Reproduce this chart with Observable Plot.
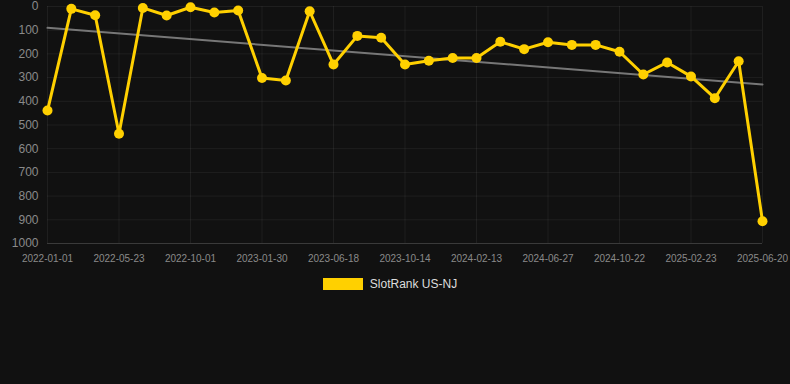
<!DOCTYPE html>
<html><head><meta charset="utf-8">
<script src="https://cdn.jsdelivr.net/npm/d3@7"></script>
<script src="https://cdn.jsdelivr.net/npm/@observablehq/plot@0.6"></script>
<style>
body{margin:0;background:#111111;font-family:Arial,"Liberation Sans",sans-serif}
#legend{display:flex;justify-content:center;align-items:center;margin-top:6px;height:12px;color:#dddddd;font-size:12px;padding-right:10px}
#legend .sw{width:40px;height:12px;background:#FFD000;margin-right:7px}
</style>
</head><body>
<div id="chart"></div>
<div id="legend"><span class="sw"></span><span id="legtext"></span></div>
<script>
const seriesName = "SlotRank US-NJ";
const ranks = [439, 10, 37, 537, 6, 38, 3, 25, 17, 302, 312, 20, 245, 124, 132, 245, 229, 217, 217, 149, 180, 151, 162, 162, 191, 287, 236, 295, 387, 231, 906];
const tickLabels = ["2022-01-01","2022-05-23","2022-10-01","2023-01-30","2023-06-18","2023-10-14","2024-02-13","2024-06-27","2024-10-22","2025-02-23","2025-06-20"];
const yTicks = [0,100,200,300,400,500,600,700,800,900,1000];

const data = ranks.map((v, i) => ({i, v}));
const xTicks = tickLabels.map((_, k) => k * 3);
const fmt = i => tickLabels[Math.round(i / 3)];

const chart = Plot.plot({
  width: 790, height: 272,
  marginLeft: 47, marginRight: 28, marginTop: 6, marginBottom: 29,
  style: {background: "#111111", fontFamily: "Arial, 'Liberation Sans', sans-serif"},
  x: {type: "linear", domain: [0, ranks.length - 1], axis: null},
  y: {domain: [0, 1000], reverse: true, axis: null},
  marks: [
    Plot.gridX({ticks: xTicks, stroke: "#ffffff", strokeOpacity: 0.06}),
    Plot.gridY({ticks: yTicks, stroke: "#ffffff", strokeOpacity: 0.06}),
    Plot.ruleY([1000], {stroke: "#ffffff", strokeOpacity: 0.12}),
    Plot.axisY({ticks: yTicks, tickFormat: d => String(d), tickSize: 0, tickPadding: 9, fontSize: 12, fill: "#8a8a8a", label: null}),
    Plot.axisX({ticks: xTicks, tickFormat: fmt, tickSize: 0, tickPadding: 11, fontSize: 10, fill: "#8a8a8a", label: null}),
    Plot.linearRegressionY(data, {x: "i", y: "v", stroke: "#777777", strokeWidth: 2, ci: 0}),
    Plot.line(data, {x: "i", y: "v", stroke: "#FFD000", strokeWidth: 3}),
    Plot.dot(data, {x: "i", y: "v", r: 5, fill: "#FFD000", stroke: "none"})
  ]
});
document.getElementById("chart").append(chart);
document.getElementById("legtext").textContent = seriesName;
</script>
</body></html>
